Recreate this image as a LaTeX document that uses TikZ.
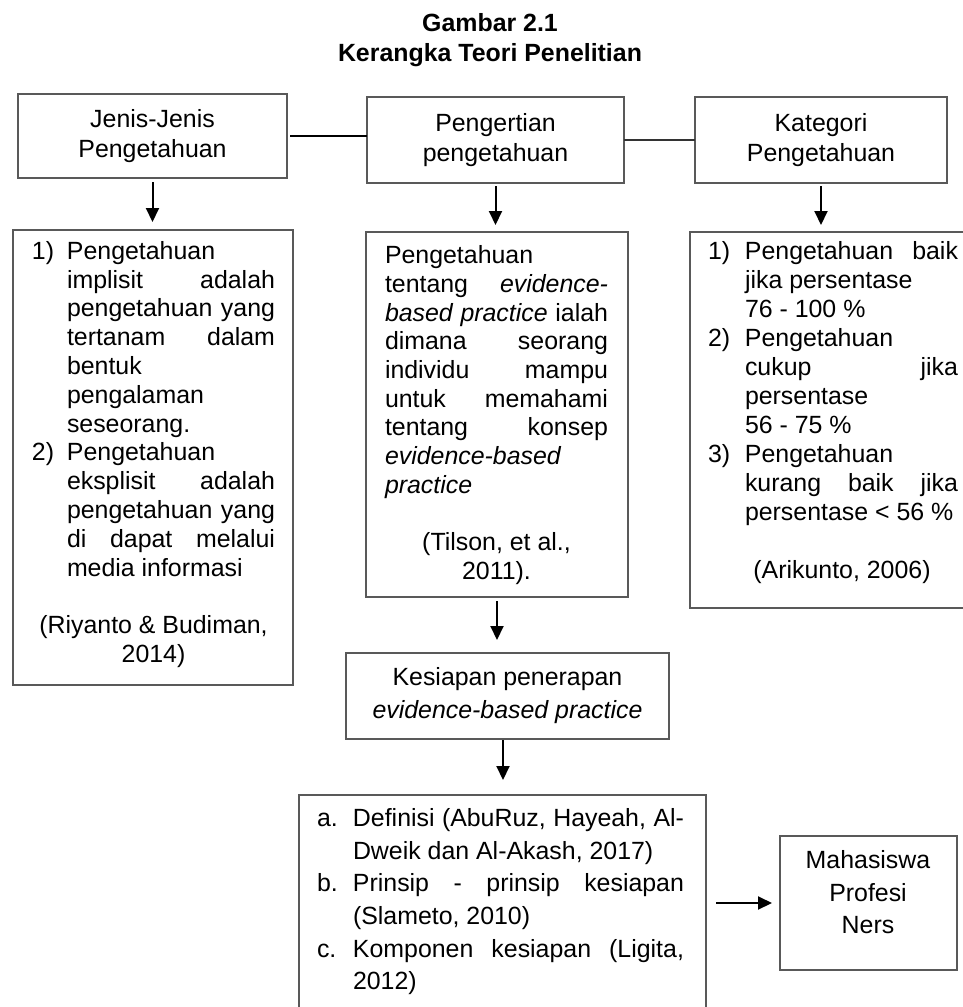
\documentclass[tikz,border=0pt]{standalone}
\usepackage{fontspec}
\setmainfont{Liberation Sans}
\usetikzlibrary{arrows.meta}

\newlength{\lblw}
\newlength{\itemw}
\newcommand{\widths}[2]{\global\lblw=#1\relax\global\itemw=#2\relax}
\newcommand{\lbl}[1]{\makebox[\lblw][l]{#1}}
\newcommand{\ind}{\hspace*{\lblw}}
\newcommand{\just}[1]{\makebox[\itemw][s]{#1}}
\newcommand{\ctr}[1]{\makebox[\dimexpr\lblw+\itemw\relax]{#1}}

\begin{document}
\begin{tikzpicture}[
    x=0.5pt, y=-0.5pt,
    font=\fontsize{12.45}{15}\selectfont,
    box/.style={draw=black!65, line width=0.6pt, inner sep=0pt, outer sep=0pt, align=center},
    isi/.style={inner sep=0pt, align=left},
    arrow/.style={-{Triangle[width=6.5pt,length=7pt]}, line width=1pt},
    link/.style={draw=black, line width=1pt},
]
\useasboundingbox (0,0) rectangle (963,1007);
\clip (0,0) rectangle (963,1007);

% --- title ---
\node[align=center, font=\bfseries\fontsize{12.45}{15}\selectfont] (title) at (490,40)
    {Gambar 2.1\\Kerangka Teori Penelitian};

% --- top row ---
\node[box, minimum width=134.5pt, minimum height=42pt] (jenis) at (152.5,136)
    {Jenis-Jenis\\Pengetahuan};
\node[box, minimum width=128.5pt, minimum height=43pt] (pengertian) at (495.5,140)
    {Pengertian\\pengetahuan};
\node[box, minimum width=126pt, minimum height=43pt] (kategori) at (821,140)
    {Kategori\\Pengetahuan};

% --- second row ---
\widths{17.5pt}{104pt}
\node[box, minimum width=140pt, minimum height=227.5pt] (jenisisi) at (153,457.5) {};
\node[isi, font=\fontsize{12.45}{14.4}\selectfont] (jenisisi_t) at (153.5,454.5)
    {\lbl{1)}Pengetahuan\\
     \ind\just{implisit adalah}\\
     \ind\just{pengetahuan yang}\\
     \ind\just{tertanam dalam}\\
     \ind bentuk\\
     \ind pengalaman\\
     \ind seseorang.\\
     \lbl{2)}Pengetahuan\\
     \ind\just{eksplisit adalah}\\
     \ind\just{pengetahuan yang}\\
     \ind\just{di dapat melalui}\\
     \ind media informasi\\[14.4pt]
     \ctr{(Riyanto \& Budiman,}\\
     \ctr{2014)}};

\widths{0pt}{111.5pt}
\node[box, minimum width=131pt, minimum height=182.5pt] (pengisi) at (497,414.5) {};
\node[isi, font=\fontsize{12.45}{14.35}\selectfont] (pengisi_t) at (496.5,415)
    {Pengetahuan\\
     \just{tentang \textit{evidence-}}\\
     \just{\textit{based practice} ialah}\\
     \just{dimana seorang}\\
     \just{individu mampu}\\
     \just{untuk memahami}\\
     \just{tentang konsep}\\
     \textit{evidence-based}\\
     \textit{practice}\\[14.35pt]
     \ctr{(Tilson, et al.,}\\
     \ctr{2011).}};

\widths{18.5pt}{106.5pt}
\node[box, minimum width=139pt, minimum height=188pt] (kategoriisi) at (829,420) {};
\node[isi, font=\fontsize{12.45}{14.5}\selectfont] (kategoriisi_t) at (833,412.5)
    {\lbl{1)}\just{Pengetahuan baik}\\
     \ind jika persentase\\
     \ind 76 - 100 \%\\
     \lbl{2)}Pengetahuan\\
     \ind\just{cukup jika}\\
     \ind persentase\\
     \ind 56 - 75 \%\\
     \lbl{3)}Pengetahuan\\
     \ind\just{kurang baik jika}\\
     \ind persentase < 56 \%\\[14.5pt]
     \ctr{\hspace{9pt}(Arikunto, 2006)}};

% --- readiness ---
\node[box, minimum width=161.5pt, minimum height=43pt, font=\fontsize{12.45}{16.5}\selectfont]
    (kesiapan) at (507.5,696)
    {Kesiapan penerapan\\\textit{evidence-based practice}};

\widths{18pt}{165.5pt}
\node[box, minimum width=203.5pt, minimum height=110pt] (komponen) at (502.5,905) {};
\node[isi, font=\fontsize{12.45}{16.35}\selectfont] (komponen_t) at (500.5,901.7)
    {\lbl{a.}\just{Definisi (AbuRuz, Hayeah, Al-}\\
     \ind Dweik dan Al-Akash, 2017)\\
     \lbl{b.}\just{Prinsip - prinsip kesiapan}\\
     \ind (Slameto, 2010)\\
     \lbl{c.}\just{Komponen kesiapan (Ligita,}\\
     \ind 2012)};

\node[box, minimum width=88.5pt, minimum height=67pt] (mahasiswa) at (868.5,903) {};
\node[align=center, inner sep=0pt, font=\fontsize{12.45}{16.25}\selectfont] (mahasiswa_t) at (868,892.5)
    {Mahasiswa\\Profesi\\Ners};

% --- connectors ---
\draw[link, shorten <=1.5pt] (jenis.east) -- (jenis.east -| pengertian.west);
\draw[link, draw=black!80, line width=0.7pt] (pengertian.east) -- (pengertian.east -| kategori.west);

\draw[arrow, shorten <=2pt, shorten >=4pt] (jenis.south) -- (jenis.south |- jenisisi.north);
\draw[arrow, shorten <=1.5pt, shorten >=3.5pt] (pengertian.south) -- (pengertian.south |- pengisi.north);
\draw[arrow, shorten <=1.5pt, shorten >=3.5pt] (kategori.south) -- (kategori.south |- kategoriisi.north);
\draw[arrow, shorten <=2pt, shorten >=6.5pt] (pengisi.south) -- (pengisi.south |- kesiapan.north);
\draw[arrow, shorten <=0.5pt, shorten >=7.5pt] ([xshift=-2.25pt]kesiapan.south) -- ([xshift=-2.25pt]kesiapan.south |- komponen.north);
\draw[arrow, shorten <=5pt, shorten >=4pt] (komponen.east |- mahasiswa.west) -- (mahasiswa.west);

\end{tikzpicture}
\end{document}
